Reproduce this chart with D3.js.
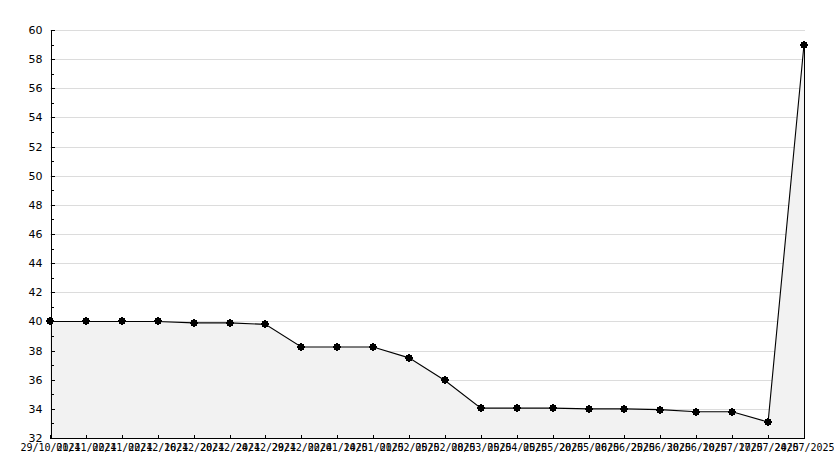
<!DOCTYPE html>
<html>
<head>
<meta charset="utf-8">
<script src="https://cdn.jsdelivr.net/npm/d3@7"></script>
<style>
html,body{margin:0;padding:0;background:#fff;}
svg{display:block;}
text{font-family:"DejaVu Sans Mono",monospace;font-size:10px;fill:#000;}
</style>
</head>
<body>
<svg id="chart" width="834" height="468"></svg>
<script>
const dates = ["29/10/2024","01/11/2024","02/11/2024","02/12/2024","16/12/2024","20/12/2024","24/12/2024","29/12/2024","02/01/2025","14/01/2025","01/02/2025","05/02/2025","08/03/2025","05/04/2025","05/05/2025","20/05/2025","06/06/2025","25/06/2025","30/06/2025","10/07/2025","17/07/2025","24/07/2025"];
const values = [40.0,40.0,40.0,40.0,39.9,39.9,39.8,38.25,38.25,38.25,37.5,35.95,34.05,34.05,34.05,34.0,34.0,33.95,33.8,33.8,33.1,59.0];
const yTicks = [32,34,36,38,40,42,44,46,48,50,52,54,56,58,60];
const yMinor = [33,35,37,39,41,43,45,47,49,51,53,55,57,59];

const svg = d3.select("#chart");
const x = d3.scalePoint().domain(d3.range(dates.length)).range([50,804]);
const y = d3.scaleLinear().domain([32,60]).range([438,30]);
const left = 50, right = 805;

// gridlines
svg.append("g").selectAll("line").data(yTicks.filter(v=>v>32)).join("line")
  .attr("x1",left).attr("x2",right)
  .attr("y1",d=>Math.round(y(d))+0.5).attr("y2",d=>Math.round(y(d))+0.5)
  .attr("stroke","#dcdcdc").attr("stroke-width",1);

// area
const area = d3.area().x((d,i)=>x(i)).y0(y(32)).y1(d=>y(d));
svg.append("path").datum(values).attr("d",area).attr("fill","#f2f2f2");

// right edge of area
svg.append("line").attr("x1",Math.round(x(values.length-1))+0.5).attr("x2",Math.round(x(values.length-1))+0.5)
  .attr("y1",y(values[values.length-1])).attr("y2",y(32)).attr("stroke","#000").attr("stroke-width",1)
  .attr("shape-rendering","crispEdges");

// line
const line = d3.line().x((d,i)=>x(i)).y(d=>y(d));
svg.append("path").datum(values).attr("d",line).attr("fill","none").attr("stroke","#000").attr("stroke-width",1.1);

// markers
const mk = svg.append("g").attr("shape-rendering","crispEdges").selectAll("g").data(values).join("g")
  .attr("transform",(d,i)=>`translate(${Math.round(x(i))},${Math.round(y(d))})`);
mk.append("rect").attr("x",-3).attr("y",-3).attr("width",6).attr("height",6).attr("fill","#000");
mk.append("rect").attr("x",-4).attr("y",-1).attr("width",8).attr("height",2).attr("fill","#000");
mk.append("rect").attr("x",-1).attr("y",-4).attr("width",2).attr("height",8).attr("fill","#000");

// y axis
const yAxis = d3.axisLeft(y).tickValues(yTicks).tickSize(-4).tickPadding(8).tickFormat(d3.format("d"));
const gy = svg.append("g").attr("transform",`translate(${left+0.5},0)`).attr("shape-rendering","crispEdges").call(yAxis);
gy.select(".domain").attr("stroke","#000");
gy.selectAll(".tick line").attr("stroke","#000");
gy.selectAll("text").style("font-family","'DejaVu Sans',sans-serif").style("font-size","11px").attr("dy","0.32em");
const yAxisMinor = d3.axisLeft(y).tickValues(yMinor).tickSize(-3).tickFormat("");
const gym = svg.append("g").attr("transform",`translate(${left+0.5},0)`).attr("shape-rendering","crispEdges").call(yAxisMinor);
gym.select(".domain").remove();
gym.selectAll(".tick line").attr("stroke","#000");

// x axis
const xAxis = d3.axisBottom(x).tickSize(-4).tickPadding(5).tickFormat(i=>dates[i]);
const gx = svg.append("g").attr("transform",`translate(0,${Math.round(y(32))+0.5})`).attr("shape-rendering","crispEdges").call(xAxis);
gx.select(".domain").attr("d",`M${left},0H${right}`).attr("stroke","#000");
gx.selectAll(".tick line").attr("stroke","#000");
gx.selectAll("text").style("font-size","10px");
</script>
</body>
</html>
